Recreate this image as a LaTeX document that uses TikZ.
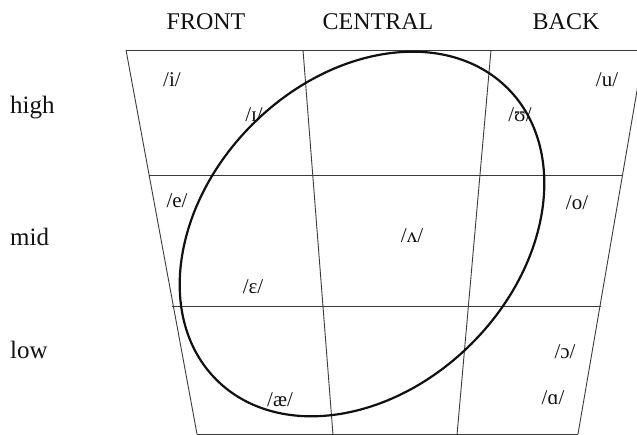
\documentclass[tikz,border=0pt]{standalone}
\usepackage{fontspec}
\setmainfont{Liberation Serif}
\usetikzlibrary{positioning,calc}
\definecolor{ink}{HTML}{111111}
\definecolor{gridgray}{HTML}{3A3A3A}
\tikzset{
  chartline/.style={draw=gridgray, line width=0.9pt},
  vowelring/.style={draw=ink, line width=2.2pt},
  headlabel/.style={font=\fontsize{24}{26}\selectfont, inner sep=0pt, text=ink},
  rowlabel/.style={font=\fontsize{25}{27}\selectfont, inner sep=0pt, anchor=west, text=ink},
  vowel/.style={font=\fontsize{21}{23}\selectfont, inner sep=0pt, text=ink}
}

\begin{document}
\begin{tikzpicture}[x=1pt,y=-1pt]
  \useasboundingbox (0,0) rectangle (637,435);
  % chart corners and dividers
  \coordinate (topL) at (126,50);
  \coordinate (topR) at (644,50);
  \coordinate (botL) at (197,434);
  \coordinate (botR) at (578,434);
  \coordinate (cenT) at (303,50);
  \coordinate (cenB) at (333,435);
  \coordinate (bakT) at (491,50);
  \coordinate (bakB) at (457,435);
  \coordinate (midL) at (149,175);
  \coordinate (midR) at (623,175);
  \coordinate (lowL) at (172,306);
  \coordinate (lowR) at (601,306);
  \begin{scope}
    \clip (0,0) rectangle (637,435);
    \draw[chartline] (topL) -- (topR);
    \draw[chartline] (midL) -- (midR);
    \draw[chartline] (lowL) -- (lowR);
    \draw[chartline] (botL) -- (botR);
    \draw[chartline] (topL) -- (botL);
    \draw[chartline] (topR) -- (botR);
    \draw[chartline] (cenT) -- (cenB);
    \draw[chartline] (bakT) -- (bakB);
  \end{scope}

  % the ring round the lax vowels
  \coordinate (ringC) at (362,234);
  \draw[vowelring, rotate around={45:(ringC)}] (ringC) ellipse [x radius=206pt, y radius=155pt];

  % headings
  \node[headlabel] (front) at (206,22) {FRONT};
  \node[headlabel] (central) at (378,22) {CENTRAL};
  \node[headlabel] (back) at (566,22) {BACK};
  \node[rowlabel] (high) at (10,108) {high};
  \node[rowlabel] (mid) at (10,237) {mid};
  \node[rowlabel] (low) at (10,350) {low};

  % vowels
  \node[vowel] (vi) at (172,80) {/i/};
  \node[vowel] (vu) at (607,80) {/u/};
  \node[vowel] (vI) at (254,115) {/ɪ/};
  \node[vowel] (vU) at (520,115) {/ʊ/};
  \node[vowel] (ve) at (177,201) {/e/};
  \node[vowel] (vo) at (577,203) {/o/};
  \node[vowel] (vV) at (412,236) {/ʌ/};
  \node[vowel] (vE) at (253,287) {/ɛ/};
  \node[vowel] (vO) at (565,352) {/ɔ/};
  \node[vowel] (vae) at (280,400) {/æ/};
  \node[vowel] (vA) at (553,398) {/ɑ/};
\end{tikzpicture}
\end{document}
